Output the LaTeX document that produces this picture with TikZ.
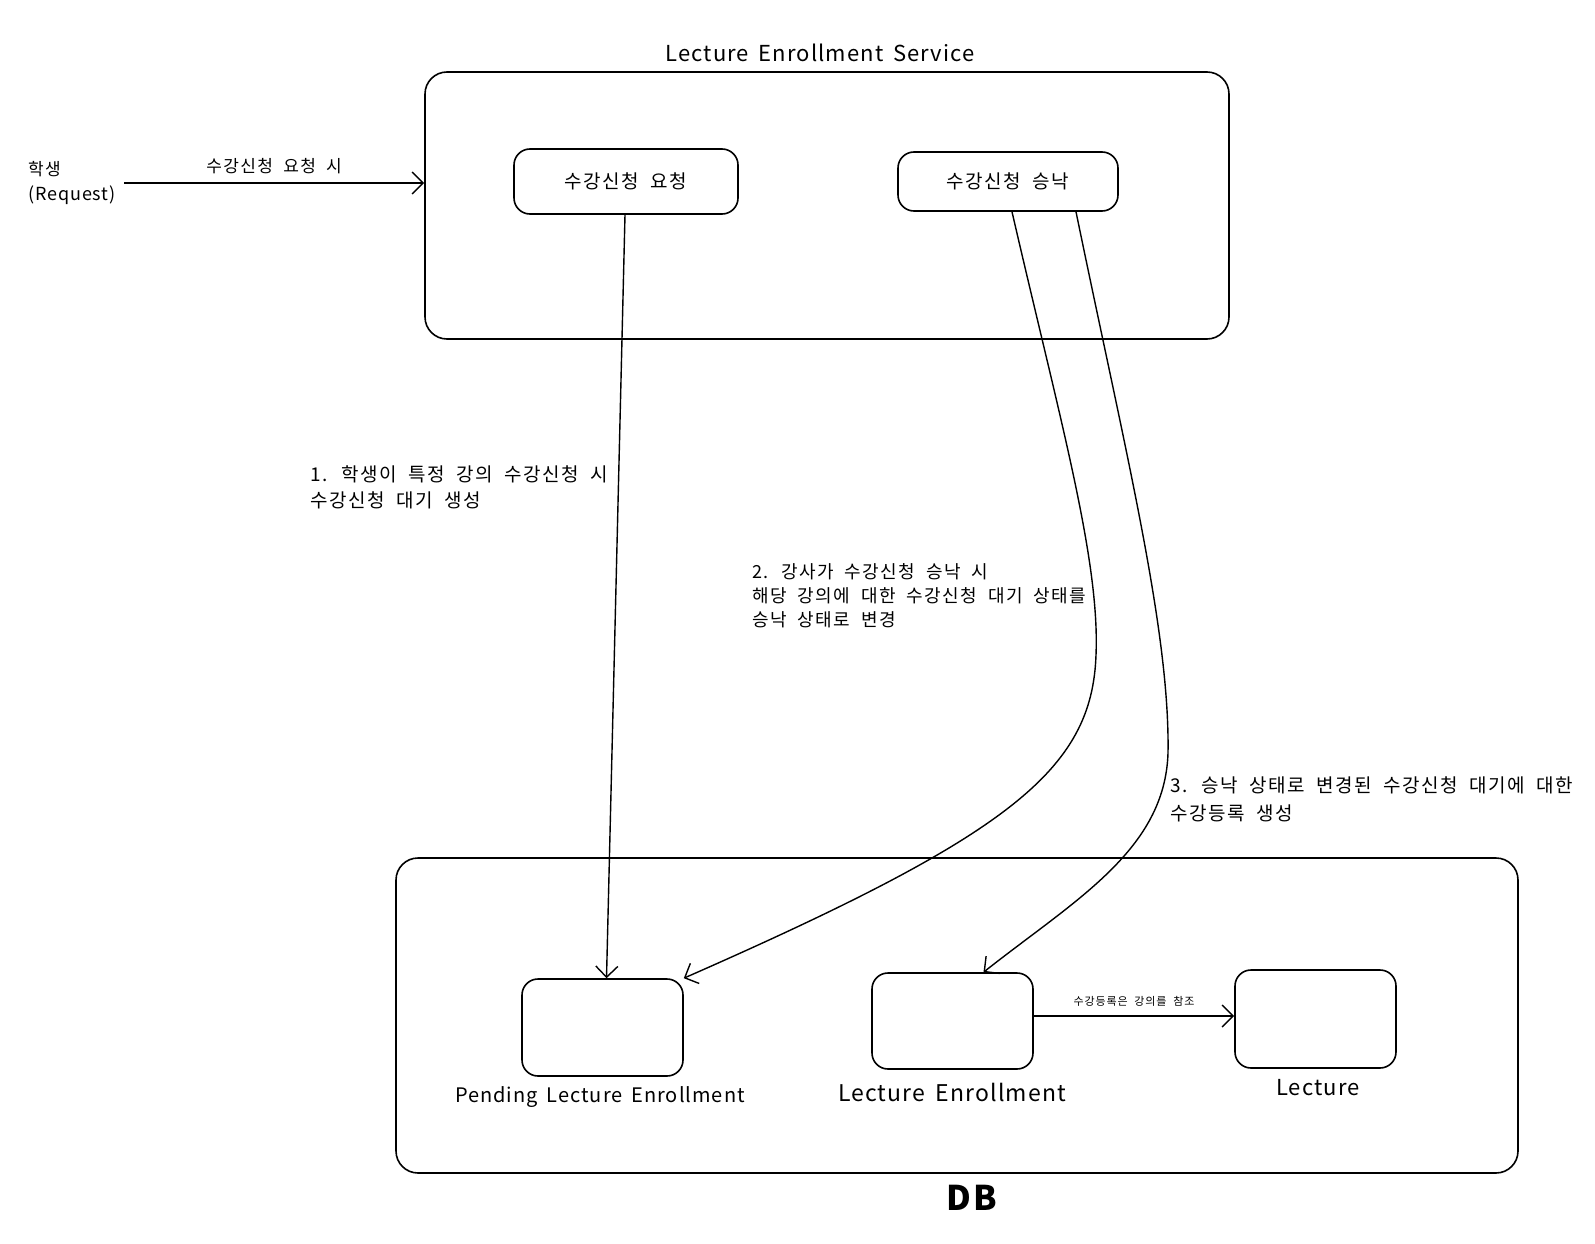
\documentclass[tikz,border=0pt]{standalone}
\usepackage{fontspec}
\setmainfont{Noto Sans CJK KR}[LetterSpace=8, WordSpace=2]
\newfontfamily\latfont{Noto Sans CJK KR}[LetterSpace=5, WordSpace=1.6]
\usetikzlibrary{arrows.meta}
\begin{document}
\begin{tikzpicture}[x=1pt,y=-1pt,
  box/.style={draw, line width=1.6pt, rounded corners=16pt, inner sep=0pt},
  bigbox/.style={draw, line width=1.6pt, rounded corners=22pt, inner sep=0pt},
  conn/.style={line width=1.4pt, -{Straight Barb[length=11pt,width=22pt,line width=1.4pt]}},
  lbl/.style={font=\fontsize{19}{26}\selectfont, align=left, inner sep=0pt, anchor=north west},
  boxtext/.style={font=\fontsize{19}{24}\selectfont},
  enttext/.style={inner sep=0pt},
]
\useasboundingbox (0,0) rectangle (1595,1244);
% service container
\node[bigbox, minimum width=804pt, minimum height=267pt] (svc) at (827,205.5) {};
\node[font=\latfont\fontsize{22}{26}\selectfont, inner sep=0pt] (svct) at (820,53) {Lecture Enrollment Service};
\node[box, minimum width=224pt, minimum height=65pt, boxtext] (req) at (626,181.5) {수강신청 요청};
\node[box, minimum width=220pt, minimum height=59pt, boxtext] (apr) at (1008,181.5) {수강신청 승낙};
% student
\node[font=\fontsize{17}{25}\selectfont, align=left, inner sep=0pt, anchor=west] (stu) at (28,183) {학생\\{\latfont\fontsize{18}{25}\selectfont(Request)}};
\coordinate (stuout) at (124,183);
\draw[conn] (stuout) -- (stuout -| svc.west) node[midway, above=8pt, font=\fontsize{17}{20}\selectfont, inner sep=0pt] (reql) {수강신청 요청 시};
% DB container
\node[bigbox, minimum width=1122pt, minimum height=315pt] (db) at (957,1015.5) {};
\node[font=\bfseries\fontsize{34}{40}\selectfont, inner sep=0pt] (dbt) at (972,1198) {DB};
\node[box, minimum width=161pt, minimum height=97pt] (pend) at (602.5,1027.5) {};
\node[box, minimum width=161pt, minimum height=96pt] (le) at (952.5,1021) {};
\node[box, minimum width=161pt, minimum height=98pt] (lec) at (1315.5,1019) {};
\node[enttext, font=\latfont\fontsize{20}{24}\selectfont] (pendt) at (600,1097) {Pending Lecture Enrollment};
\node[enttext, font=\latfont\fontsize{23}{28}\selectfont] (let) at (952,1092) {Lecture Enrollment};
\node[enttext, font=\latfont\fontsize{22}{26}\selectfont] (lect) at (1318,1088) {Lecture};
% connectors
\draw[conn] ([xshift=-1pt]req.south) -- ([xshift=4pt]pend.north);
\draw[conn] ([xshift=4pt]apr.south) .. controls (1060,420) and (1100,560) .. (1096,655)
  .. controls (1092,770) and (1010,835) .. (pend.north east);
\draw[conn] ([xshift=68pt]apr.south) .. controls (1125,450) and (1170,630) .. (1168,753)
  .. controls (1165,850) and (1075,900) .. ([xshift=31pt]le.north);
\draw[conn] ([yshift=5pt]le.east) -- ([yshift=5pt]le.east -| lec.west) node[midway, above=9pt, font=\fontsize{11}{13}\selectfont, inner sep=0pt] (refl) {수강등록은 강의를 참조};
% step labels
\node[lbl] (l1) at (310,466) {1. 학생이 특정 강의 수강신청 시\\수강신청 대기 생성};
\node[lbl, font=\fontsize{18}{24}\selectfont] (l2) at (752,563) {2. 강사가 수강신청 승낙 시\\해당 강의에 대한 수강신청 대기 상태를\\승낙 상태로 변경};
\node[lbl, font=\fontsize{19}{28}\selectfont] (l3) at (1170,777) {3. 승낙 상태로 변경된 수강신청 대기에 대한\\수강등록 생성};
\end{tikzpicture}
\end{document}
